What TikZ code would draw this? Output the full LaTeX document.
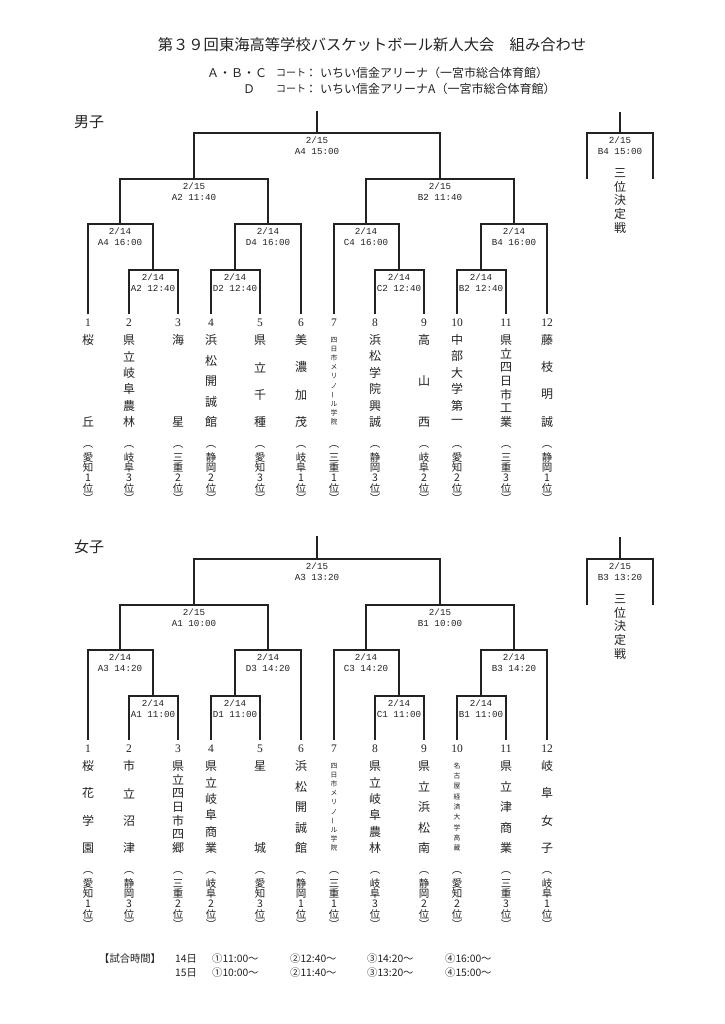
\documentclass[tikz,border=0pt]{standalone}
\usepackage{fontspec}
\usepackage{graphicx}
\setmainfont{Liberation Serif}
\setmonofont{Liberation Mono}
\newfontfamily\jp{Noto Sans CJK JP}
\definecolor{ink}{HTML}{222222}
\tikzset{
  brk/.style={line width=1.2pt, draw=ink},
  lab/.style={text=ink, font=\ttfamily\fontsize{9.2}{9.2}\selectfont, inner sep=0pt},
  num/.style={text=ink, font=\fontsize{11.5}{11.5}\selectfont, inner sep=0pt},
  nm/.style={text=ink, font=\jp\fontsize{12}{12}\selectfont, inner sep=0pt},
  nms/.style={text=ink, font=\jp\fontsize{6.8}{6.8}\selectfont, inner sep=0pt},
  pref/.style={text=ink, font=\jp\fontsize{10.5}{10.5}\selectfont, inner sep=0pt},
  ttl/.style={text=ink, font=\jp\fontsize{15.3}{15.3}\selectfont, inner sep=0pt},
  sub/.style={text=ink, font=\jp\fontsize{12}{12}\selectfont, inner sep=0pt},
  head/.style={text=ink, font=\jp\fontsize{15}{15}\selectfont, inner sep=0pt},
  sched/.style={text=ink, font=\jp\fontsize{10.3}{10.3}\selectfont, inner sep=0pt, anchor=west}
}
\newcommand{\vlong}{\rotatebox{90}{ー}}
\newcommand{\match}[7]{%
  \coordinate (#1) at (#2,#3);
  \draw[brk] (#4) |- (#1) -| (#5);
  \node[lab] (#1-d) at (#2,#3+7) {#6};
  \node[lab] (#1-t) at (#2,#3+18) {#7};
}
\newcommand{\team}[7][nm]{%
  \coordinate (#2) at (#3,314);
  \node[num] (#2-no) at (#3,323) {#4};
  \foreach \ch [count=\i] in {#6}
    \node[#1] (#2-\i) at (#3,{340+82*(\i-1)/(#5-1)}) {\ch};
  \foreach \ch [count=\i] in {︵,#7,位,︶}
    \node[pref] (#2-p\i) at (#3,{447+10.3*(\i-1)}) {\ch};
}

\begin{document}
\begin{tikzpicture}[x=1pt,y=-1pt]
  \fill[white] (0,0) rectangle (724,1024);
  \useasboundingbox (0,0) rectangle (724,1024);

  \node[ttl] (title) at (372,45) {第３９回東海高等学校バスケットボール新人大会　組み合わせ};
  \node[sub,anchor=west] (abc) at (207,73) {Ａ・Ｂ・Ｃ};
  \node[sub,anchor=west,font=\jp\fontsize{10}{10}\selectfont] (abc-c) at (276,73) {コート};
  \node[sub] (abc-s) at (311,73) {：};
  \node[sub,anchor=west] (abc-h) at (320,73) {いちい信金アリーナ（一宮市総合体育館）};
  \node[sub,anchor=west] (d) at (243,89) {Ｄ};
  \node[sub,anchor=west,font=\jp\fontsize{10}{10}\selectfont] (d-c) at (276,89) {コート};
  \node[sub] (d-s) at (311,89) {：};
  \node[sub,anchor=west] (d-h) at (320,89) {いちい信金アリーナA（一宮市総合体育館）};

  % boys
  \node[head] (boys) at (89,122) {男子};
  \team{m1}{88}{1}{2}{桜,丘}{愛,知,1}
  \team{m2}{129}{2}{6}{県,立,岐,阜,農,林}{岐,阜,3}
  \team{m3}{178}{3}{2}{海,星}{三,重,2}
  \team{m4}{211}{4}{5}{浜,松,開,誠,館}{静,岡,2}
  \team{m5}{260}{5}{4}{県,立,千,種}{愛,知,3}
  \team{m6}{301}{6}{4}{美,濃,加,茂}{岐,阜,1}
  \team[nms]{m7}{334}{7}{10}{四,日,市,メ,リ,ノ,\vlong,ル,学,院}{三,重,1}
  \team{m8}{375}{8}{6}{浜,松,学,院,興,誠}{静,岡,3}
  \team{m9}{424}{9}{3}{高,山,西}{岐,阜,2}
  \team{m10}{457}{10}{6}{中,部,大,学,第,一}{愛,知,2}
  \team{m11}{506}{11}{7}{県,立,四,日,市,工,業}{三,重,3}
  \team{m12}{547}{12}{4}{藤,枝,明,誠}{静,岡,1}

  \match{mi1}{153}{270}{m2}{m3}{2/14}{A2 12:40}
  \match{mi2}{235}{270}{m4}{m5}{2/14}{D2 12:40}
  \match{mi3}{399}{270}{m8}{m9}{2/14}{C2 12:40}
  \match{mi4}{481}{270}{m10}{m11}{2/14}{B2 12:40}
  \match{mq1}{120}{224}{m1}{mi1}{2/14}{A4 16:00}
  \match{mq2}{268}{224}{mi2}{m6}{2/14}{D4 16:00}
  \match{mq3}{366}{224}{m7}{mi3}{2/14}{C4 16:00}
  \match{mq4}{514}{224}{mi4}{m12}{2/14}{B4 16:00}
  \match{ms1}{194}{179}{mq1}{mq2}{2/15}{A2 11:40}
  \match{ms2}{440}{179}{mq3}{mq4}{2/15}{B2 11:40}
  \match{mf}{317}{133}{ms1}{ms2}{2/15}{A4 15:00}
  \coordinate (mtop) at (317,111);
  \draw[brk] (mf) -- (mtop);

  \coordinate (m3l) at (587,179);
  \coordinate (m3r) at (653,179);
  \match{m3p}{620}{133}{m3l}{m3r}{2/15}{B4 15:00}
  \coordinate (m3top) at (620,112);
  \draw[brk] (m3p) -- (m3top);
  \foreach \ch [count=\i] in {三,位,決,定,戦}
    \node[nm] (m3p-\i) at (620,{159.3+13.7*\i}) {\ch};

  % girls
  \begin{scope}[shift={(0,426)}]
    \node[head] (girls) at (89,121) {女子};
    \team{w1}{88}{1}{4}{桜,花,学,園}{愛,知,1}
    \team{w2}{129}{2}{4}{市,立,沼,津}{静,岡,3}
    \team{w3}{178}{3}{7}{県,立,四,日,市,四,郷}{三,重,2}
    \team{w4}{211}{4}{6}{県,立,岐,阜,商,業}{岐,阜,2}
    \team{w5}{260}{5}{2}{星,城}{愛,知,3}
    \team{w6}{301}{6}{5}{浜,松,開,誠,館}{静,岡,1}
    \team[nms]{w7}{334}{7}{10}{四,日,市,メ,リ,ノ,\vlong,ル,学,院}{三,重,1}
    \team{w8}{375}{8}{6}{県,立,岐,阜,農,林}{岐,阜,3}
    \team{w9}{424}{9}{5}{県,立,浜,松,南}{静,岡,2}
    \team[nms]{w10}{457}{10}{9}{名,古,屋,経,済,大,学,高,蔵}{愛,知,2}
    \team{w11}{506}{11}{5}{県,立,津,商,業}{三,重,3}
    \team{w12}{547}{12}{4}{岐,阜,女,子}{岐,阜,1}

    \match{wi1}{153}{270}{w2}{w3}{2/14}{A1 11:00}
    \match{wi2}{235}{270}{w4}{w5}{2/14}{D1 11:00}
    \match{wi3}{399}{270}{w8}{w9}{2/14}{C1 11:00}
    \match{wi4}{481}{270}{w10}{w11}{2/14}{B1 11:00}
    \match{wq1}{120}{224}{w1}{wi1}{2/14}{A3 14:20}
    \match{wq2}{268}{224}{wi2}{w6}{2/14}{D3 14:20}
    \match{wq3}{366}{224}{w7}{wi3}{2/14}{C3 14:20}
    \match{wq4}{514}{224}{wi4}{w12}{2/14}{B3 14:20}
    \match{ws1}{194}{179}{wq1}{wq2}{2/15}{A1 10:00}
    \match{ws2}{440}{179}{wq3}{wq4}{2/15}{B1 10:00}
    \match{wf}{317}{133}{ws1}{ws2}{2/15}{A3 13:20}
    \coordinate (wtop) at (317,110);
    \draw[brk] (wf) -- (wtop);

    \coordinate (w3l) at (587,179);
    \coordinate (w3r) at (653,179);
    \match{w3p}{620}{133}{w3l}{w3r}{2/15}{B3 13:20}
    \coordinate (w3top) at (620,111);
    \draw[brk] (w3p) -- (w3top);
    \foreach \ch [count=\i] in {三,位,決,定,戦}
      \node[nm] (w3p-\i) at (620,{159.3+13.7*\i}) {\ch};
  \end{scope}

  % schedule
  \node[sched] (sch) at (99,959) {【試合時間】};
  \node[sched] (d14) at (175,959) {14日};
  \node[sched] (d14a) at (212,959) {①11:00～};
  \node[sched] (d14b) at (290,959) {②12:40～};
  \node[sched] (d14c) at (367,959) {③14:20～};
  \node[sched] (d14d) at (445,959) {④16:00～};
  \node[sched] (d15) at (175,973) {15日};
  \node[sched] (d15a) at (212,973) {①10:00～};
  \node[sched] (d15b) at (290,973) {②11:40～};
  \node[sched] (d15c) at (367,973) {③13:20～};
  \node[sched] (d15d) at (445,973) {④15:00～};
\end{tikzpicture}
\end{document}
